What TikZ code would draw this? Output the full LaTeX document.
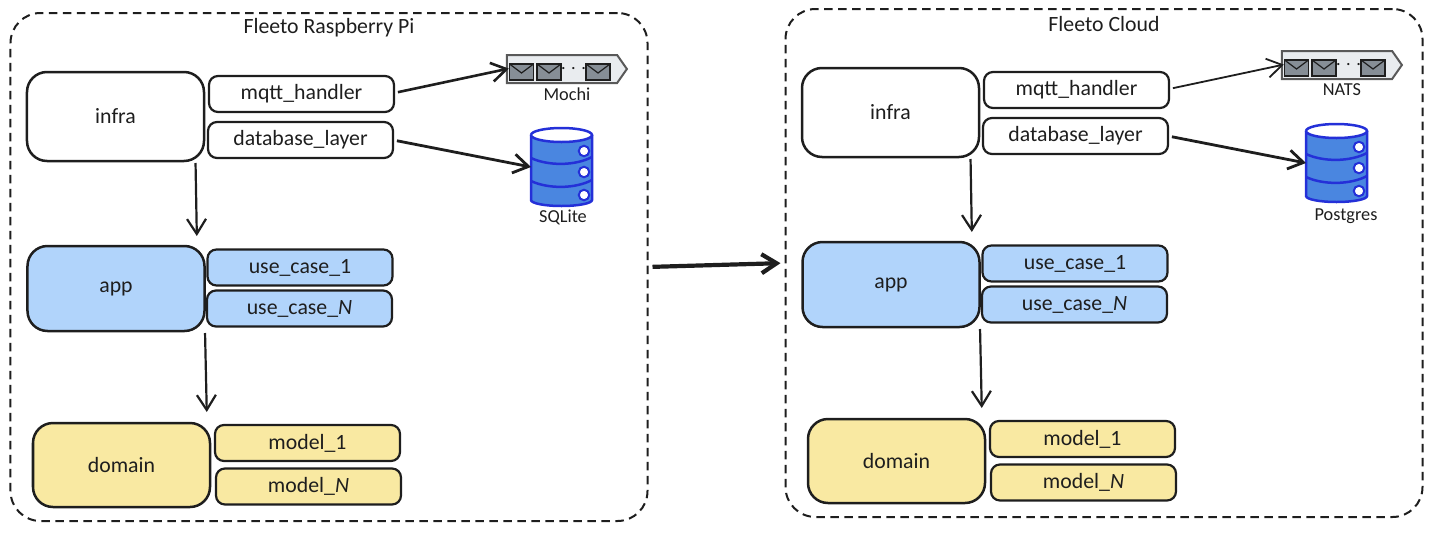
\documentclass[tikz,border=0pt]{standalone}
\usepackage{fontspec}
\setmainfont{Carlito}
\usetikzlibrary{arrows.meta, shapes.symbols}
\definecolor{inkblack}{HTML}{1E1E1E}
\definecolor{appblue}{HTML}{B1D4FB}
\definecolor{domyellow}{HTML}{F9E9A2}
\definecolor{dbblue}{HTML}{4A86E0}
\definecolor{dbline}{HTML}{2430D8}
\definecolor{queuegray}{HTML}{E9ECEF}
\definecolor{mailgray}{HTML}{868E96}

\begin{document}
\begin{tikzpicture}[x=1mm, y=1mm,
  every node/.style={inner sep=0pt, outer sep=0pt, text=inkblack, font=\fontsize{62}{74}\selectfont},
  frame/.style={draw=inkblack, line width=0.2cm, dash pattern=on 0.85cm off 0.55cm, rounded corners=3cm, minimum width=63.7cm, minimum height=50.8cm},
  layer/.style={draw=inkblack, line width=0.25cm, rounded corners=2cm, minimum width=17.7cm, minimum height=8.9cm},
  part/.style={draw=inkblack, line width=0.22cm, rounded corners=0.9cm, minimum width=18.5cm, minimum height=3.6cm},
  flow/.style={draw=inkblack, line width=0.22cm, -{Straight Barb[length=1.5cm,width=1.9cm]}},
  bigflow/.style={flow, line width=0.42cm, shorten <=0.5cm, shorten >=0.5cm},
  queue/.style={draw=black!65, line width=0.2cm, fill=queuegray, signal, signal to=east, signal pointer angle=110, minimum width=12cm, minimum height=2.8cm},
  mail/.style={draw=inkblack, line width=0.12cm, fill=mailgray, minimum width=2.4cm, minimum height=1.6cm},
  store/.style={minimum width=6.1cm, minimum height=7.8cm},
  storeline/.style={draw=dbline, line width=0.25cm},
  hole/.style={circle, draw=dbline, line width=0.2cm, fill=white, minimum size=1.05cm},
  small/.style={font=\fontsize{52}{62}\selectfont}]
\useasboundingbox (0,0) rectangle (1432,-539);

\foreach \side/\dx/\dy/\heading/\broker/\db/\dbx/\dby/\mqw in {pi/0/0/Fleeto Raspberry Pi/Mochi/SQLite/563/217/0.26cm, cloud/775/4/Fleeto Cloud/NATS/Postgres/571/220/0.18cm} {
\begin{scope}[shift={(\dx,\dy)}]
\node [frame] (\side frame) at (329,-267) {};
\node (\side title) at (329,-28) {\heading};
% left column
\node [layer] (\side infra) at (115.5,-116.5) {infra};
\node [layer, fill=appblue, minimum height=8.5cm] (\side app) at (116,-288.5) {app};
\node [layer, fill=domyellow, minimum height=8.4cm] (\side domain) at (121.5,-465) {domain};
% right column
\node [part] (\side mqtt) at (301.5,-94) {mqtt\_handler};
\node [part] (\side dblayer) at (300.5,-140) {database\_layer};
\node [part, fill=appblue] (\side case1) at (300,-267.5) {use\_case\_1};
\node [part, fill=appblue] (\side caseN) at (299.5,-308.5) {use\_case\_\emph{N}};
\node [part, fill=domyellow] (\side model1) at (307.5,-443) {model\_1};
\node [part, fill=domyellow] (\side modelN) at (308.5,-486.5) {model\_\emph{N}};
% broker
\node [queue] (\side queue) at (562,-69) {};
\foreach \ex/\en in {521.5/a, 549/b, 598/c} {
  \node [mail] (\side mail\en) at (\ex,-72) {};
  \draw [inkblack, line width=0.12cm] (\side mail\en.north west) -- ([yshift=-0.9cm]\side mail\en.north) -- (\side mail\en.north east);
}
\node [small] (\side dots) at (573.5,-69) {. . .};
\node [small] (\side brokername) at (567,-94) {\broker};
% database
\node [store] (\side store) at (561.5,-167) {};
\fill [dbblue] ([yshift=-0.7cm]\side store.north west) -- ([yshift=0.6cm]\side store.south west) arc [start angle=180, end angle=360, x radius=3.05cm, y radius=0.6cm] -- ([yshift=-0.7cm]\side store.north east) -- cycle;
\draw [storeline] ([yshift=-0.7cm]\side store.north west) -- ([yshift=0.6cm]\side store.south west) arc [start angle=180, end angle=360, x radius=3.05cm, y radius=0.6cm] -- ([yshift=-0.7cm]\side store.north east);
\draw [storeline, fill=white] ([yshift=-0.7cm]\side store.north west) arc [start angle=180, end angle=-180, x radius=3.05cm, y radius=0.7cm];
\draw [storeline] (531,-158) .. controls (548,-166) and (575,-166) .. (592,-157);
\draw [storeline] (531,-181) .. controls (548,-189) and (575,-189) .. (592,-180);
\node [hole] (\side holea) at (584,-151) {};
\node [hole] (\side holeb) at (584,-172) {};
\node [hole] (\side holec) at (584,-195) {};
\node [small] (\side dbname) at (\dbx,-\dby) {\db};
% connectors
\draw [flow, shorten <=0.2cm, shorten >=1cm] ([xshift=8cm]\side infra.south) -- ([xshift=8.1cm]\side app.north);
\draw [flow, shorten <=0.2cm, shorten >=1.1cm] ([xshift=8.9cm]\side app.south) -- ([xshift=8.55cm]\side domain.north);
\draw [flow, line width=\mqw, shorten <=0.4cm, shorten >=-0.2cm] ([yshift=0.1cm]\side mqtt.east) -- (\side queue.west);
\draw [flow, line width=0.28cm, shorten <=0.4cm, shorten >=0cm] (\side dblayer.east) -- (\side store.west);
\end{scope}
}
\draw [bigflow] (piframe.east) -- (cloudframe.west);
\end{tikzpicture}
\end{document}
